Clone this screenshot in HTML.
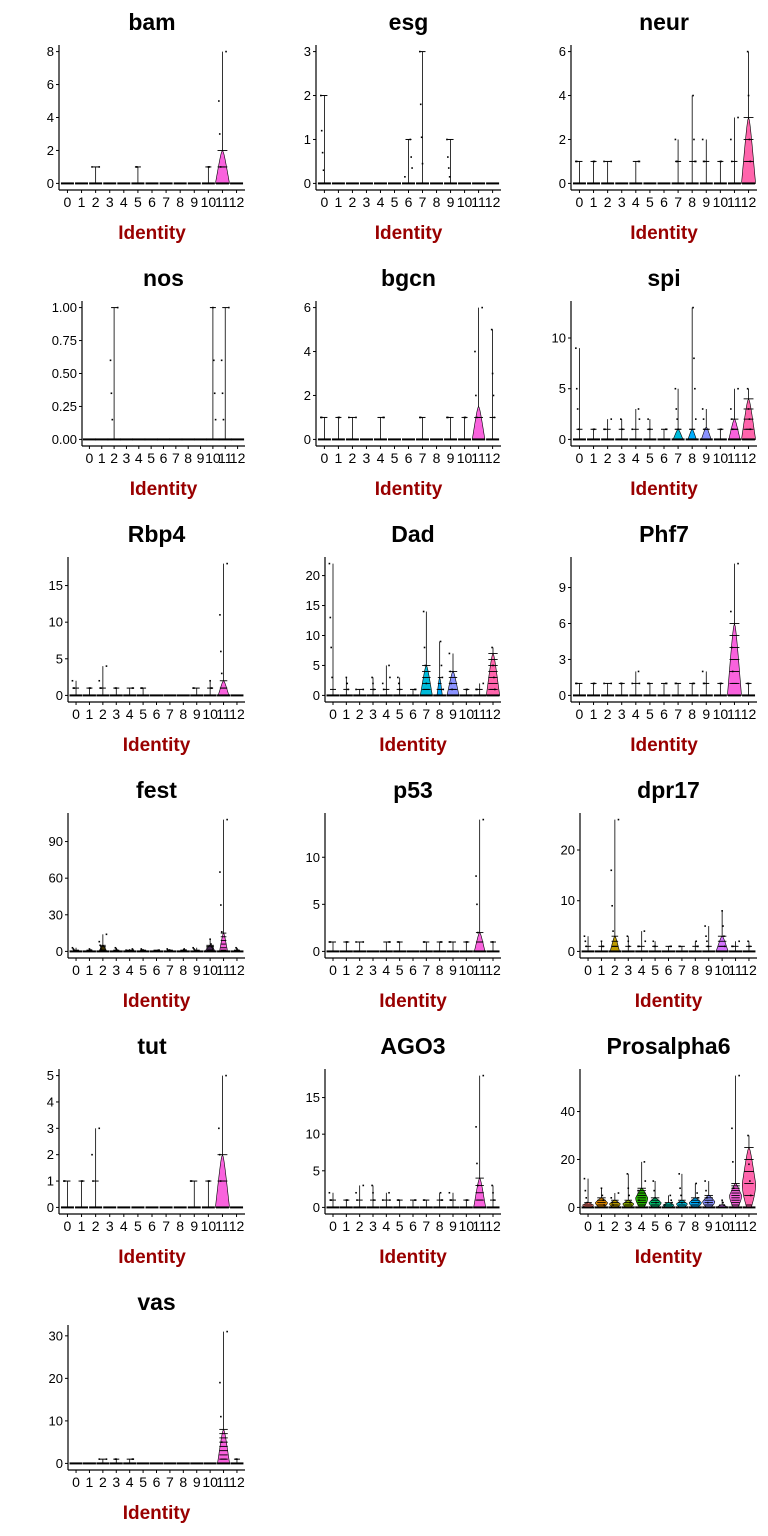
<!DOCTYPE html>
<html><head><meta charset="utf-8"><style>
html,body{margin:0;padding:0;background:#fff}
svg{display:block;font-family:"Liberation Sans",Arial,sans-serif}
</style></head><body>
<svg id="chart" width="768" height="1536" viewBox="0 0 768 1536"></svg>
<script>
const genes = ["bam","esg","neur","nos","bgcn","spi","Rbp4","Dad","Phf7","fest","p53","dpr17","tut","AGO3","Prosalpha6","vas"];
const categories = ["0","1","2","3","4","5","6","7","8","9","10","11","12"];
const colors = ["#F8766D","#E18A00","#BE9C00","#8CAB00","#24B700","#00BE70","#00C1AB","#00BBDA","#00ACFC","#8B93FF","#D575FE","#F962DD","#FF65AC"];
const axisXs = [59,316,571,82,316,571,68,325,571,68,325,580,59,325,580,68];
const yMaxes = [8,3,6,1,6,13,18,22,11,108,14,26,5,18,55,31];
const tickVals = [[0,2,4,6,8],[0,1,2,3],[0,2,4,6],[0,0.25,0.5,0.75,1],[0,2,4,6],[0,5,10],[0,5,10,15],[0,5,10,15,20],[0,3,6,9],[0,30,60,90],[0,5,10],[0,10,20],[0,1,2,3,4,5],[0,5,10,15],[0,20,40],[0,10,20,30]];
const tickLabels = [["0","2","4","6","8"],["0","1","2","3"],["0","2","4","6"],["0.00","0.25","0.50","0.75","1.00"],["0","2","4","6"],["0","5","10"],["0","5","10","15"],["0","5","10","15","20"],["0","3","6","9"],["0","30","60","90"],["0","5","10"],["0","10","20"],["0","1","2","3","4","5"],["0","5","10","15"],["0","20","40"],["0","10","20","30"]];
const maxVals = [
 [0,0,1,0,0,1,0,0,0,0,1,8,0],
 [2,0,0,0,0,0,1,3,0,1,0,0,0],
 [1,1,1,0,1,0,0,2,4,2,1,3,6],
 [0,0,1,0,0,0,0,0,0,0,1,1,0],
 [1,1,1,0,1,0,0,1,0,1,1,6,5],
 [9,1,2,2,3,2,1,5,13,3,1,5,5],
 [2,1,4,1,1,1,0,0,0,1,2,18,0],
 [22,3,1,3,5,3,1,14,9,7,1,2,8],
 [1,1,1,1,2,1,1,1,1,2,1,11,1],
 [3,2,14,3,2,2,1,2,2,3,10,108,3],
 [1,1,1,0,1,1,0,1,1,1,1,14,1],
 [3,2,26,3,4,2,1,1,2,5,8,2,2],
 [1,1,3,0,0,0,0,0,0,1,1,5,0],
 [2,1,3,3,2,1,1,1,2,2,1,18,3],
 [12,8,6,14,19,11,5,14,10,11,3,55,30],
 [0,0,1,1,1,0,0,0,0,0,0,31,1]
];
const vioTop = [
 [0,0,0,0,0,0,0,0,0,0,0,2,0],[0,0,0,0,0,0,0,0,0,0,0,0,0],[0,0,0,0,0,0,0,0,0,0,0,0,3],[0,0,0,0,0,0,0,0,0,0,0,0,0],
 [0,0,0,0,0,0,0,0,0,0,0,1.5,0],[0,0,0,0,0,0,0,1,1,1.2,0,2,4],[0,0,0,0,0,0,0,0,0,0,0,2,0],[0,0,0,0,0,0,0,5,3,4,0,0,7],
 [0,0,0,0,0,0,0,0,0,0,0,6,0],[0,0,5,0,0,0,0,0,0,0,5,15,0],[0,0,0,0,0,0,0,0,0,0,0,2,0],[0,0,3,0,0,0,0,0,0,0,3,0,0],
 [0,0,0,0,0,0,0,0,0,0,0,2,0],[0,0,0,0,0,0,0,0,0,0,0,4,0],[2,4,3,3,8,4,2,3,4,5,1,10,25],[0,0,0,0,0,0,0,0,0,0,0,8,0]
];
const vioWidth = [
 [0,0,0,0,0,0,0,0,0,0,0,.5,0],[0,0,0,0,0,0,0,0,0,0,0,0,0],[0,0,0,0,0,0,0,0,0,0,0,0,.5],[0,0,0,0,0,0,0,0,0,0,0,0,0],
 [0,0,0,0,0,0,0,0,0,0,0,.45,0],[0,0,0,0,0,0,0,.35,.3,.35,0,.4,.5],[0,0,0,0,0,0,0,0,0,0,0,.4,0],[0,0,0,0,0,0,0,.45,.2,.45,0,0,.5],
 [0,0,0,0,0,0,0,0,0,0,0,.5,0],[0,0,.3,0,0,0,0,0,0,0,.4,.3,0],[0,0,0,0,0,0,0,0,0,0,0,.4,0],[0,0,.35,0,0,0,0,0,0,0,.45,0,0],
 [0,0,0,0,0,0,0,0,0,0,0,.5,0],[0,0,0,0,0,0,0,0,0,0,0,.45,0],[.4,.45,.4,.4,.45,.45,.4,.4,.45,.45,.3,.45,.5],[0,0,0,0,0,0,0,0,0,0,0,.45,0]
];
const vioPeak = [0,0,0,0,0,0,0,0,0,0,0,0,0,0,10,0];
</script>
<script>
const svg = document.getElementById('chart');
const NS = 'http://www.w3.org/2000/svg';
function mk(tag, attrs, parent){const e=document.createElementNS(NS,tag);for(const k in attrs)e.setAttribute(k,attrs[k]);(parent||svg).appendChild(e);return e;}
genes.forEach((g,pi)=>{
  const col=pi%3,row=Math.floor(pi/3),ox=col*256,oy=row*256;
  const ax=axisXs[pi],right=ox+245,top=oy+45,bot=oy+190;
  const ymax=yMaxes[pi];
  const ys=v=>bot-(v+0.05*ymax)/(1.1*ymax)*(bot-top);
  const unit=(right-ax)/13.2;
  const xs=i=>ax+(i+0.6)*unit;
  const grp=mk('g',{});
  
  
  const t=mk('text',{x:(ax+right)/2,y:oy+30,'text-anchor':'middle','font-size':'23','font-weight':'bold',fill:'#000'},grp);
  t.textContent=g;
  
  
  categories.forEach((c,i)=>{
    const mv=maxVals[pi][i];const cx=xs(i);
    if(mv>0){const l=mk('line',{x1:cx,x2:cx,y1:ys(0),y2:ys(mv),stroke:'#000','stroke-width':'0.8'},grp);
      
      }
    const vt=vioTop[pi][i],vw=vioWidth[pi][i];
    if(vt>0&&vw>0){
      const pk=Math.min(vioPeak[pi],vt*0.5);const pts=[];const N=24;
      for(let k=0;k<=N;k++){const v=vt*k/N;let w;
        if(pk>0&&v<=pk)w=vw*(0.35+0.65*Math.sin(Math.PI/2*v/pk));else{const r=(v-pk)/(vt-pk);w=vw*Math.pow(1-r,0.6)*(1-0.25*r);}
        pts.push([v,w*unit]);}
      let d='M'+cx+','+ys(0);
      pts.forEach(p=>d+=' L'+(cx+p[1])+','+ys(p[0]));
      for(let k=pts.length-1;k>=0;k--)d+=' L'+(cx-pts[k][1])+','+ys(pts[k][0]);
      d+='Z';
      const p=mk('path',{d:d,fill:colors[i],stroke:'#000','stroke-width':'0.6'},grp);
      
      
      const step=vt>12?Math.ceil(vt/6):(vt>3?1:1);
      for(let v=step;v<=vt;v+=step){
        const hw=vw*unit*0.7;
        const dl=mk('line',{x1:cx-hw,x2:cx+hw,y1:ys(v),y2:ys(v),stroke:'#000','stroke-width':'0.9'},grp);
        
        }
    }
    if(mv>0){
      const lv=[mv,mv*0.6,mv*0.35,mv*0.15].map(v=>ymax>3?Math.round(v):v);
      lv.forEach((v,k)=>{if(v<=0)return;
        const dx=((k*37+i*13)%9-4)*0.9;
        const dt=mk('rect',{x:cx+dx-0.8,y:ys(v)-0.8,width:1.6,height:1.6,fill:'#000'},grp);
        
        });
      const bv=ymax>3?1:mv;
      const dl=mk('line',{x1:cx-3,x2:cx+3,y1:ys(bv),y2:ys(bv),stroke:'#000','stroke-width':'1'},grp);
      
      
    }
    const zl=mk('line',{x1:cx-6.5,x2:cx+6.5,y1:ys(0),y2:ys(0),stroke:'#000','stroke-width':'2'},grp);
    
    
    const tk=mk('line',{x1:cx,x2:cx,y1:bot,y2:bot+3,stroke:'#000','stroke-width':'1'},grp);
    
    
    const tl=mk('text',{x:cx,y:bot+17,'text-anchor':'middle','font-size':'14',fill:'#000'},grp);
    tl.textContent=c;
    
    
  });
  const ya=mk('line',{x1:ax,x2:ax,y1:top,y2:bot,stroke:'#000','stroke-width':'1.2'},grp);
  
  
  const xa=mk('line',{x1:ax,x2:right,y1:bot,y2:bot,stroke:'#000','stroke-width':'1.2'},grp);
  
  
  tickVals[pi].forEach((v,k)=>{
    const y=ys(v);
    const tk=mk('line',{x1:ax-3,x2:ax,y1:y,y2:y,stroke:'#000','stroke-width':'1'},grp);
    
    
    const tl=mk('text',{x:ax-5,y:y+4.5,'text-anchor':'end','font-size':'13',fill:'#000'},grp);
    tl.textContent=tickLabels[pi][k];
    
    
  });
  const xt=mk('text',{x:(ax+right)/2,y:oy+239,'text-anchor':'middle','font-size':'19','font-weight':'bold',fill:'#990000'},grp);
  xt.textContent='Identity';
  
  
});
</script>
</body></html>
